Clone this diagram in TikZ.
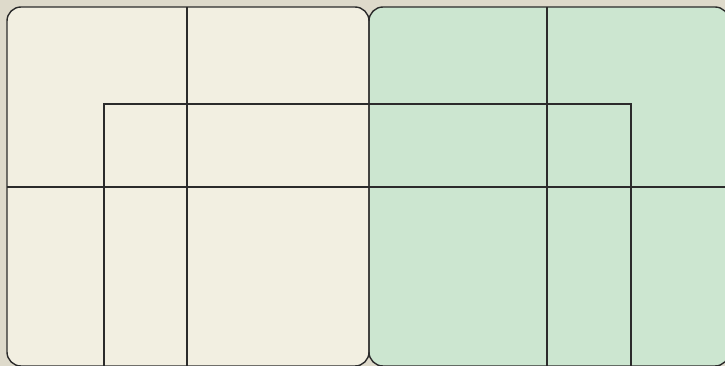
\documentclass[tikz,border=0pt]{standalone}
\definecolor{bg}{HTML}{DEDACB}
\definecolor{leftfill}{HTML}{F2EFE1}
\definecolor{rightfill}{HTML}{CCE6D0}
\definecolor{ink}{HTML}{2B2B2B}
\tikzset{
  panel/.style={draw=ink, line width=1.4pt, rounded corners=14pt},
  grid line/.style={draw=ink, line width=1.1pt}
}
\begin{document}
\begin{tikzpicture}[x=1pt,y=-1pt]
\fill[bg] (0,0) rectangle (725,366);
\useasboundingbox (0,0) rectangle (725,366);
\begin{scope}
\clip (0,0) rectangle (725,366);
\fill[leftfill, rounded corners=14pt] (7,7) rectangle (369,366);
\fill[rightfill, rounded corners=14pt] (369,7) rectangle (729,366);
% grid lines
\draw[grid line] (187,7) -- (187,366);
\draw[grid line] (547,7) -- (547,366);
\draw[grid line] (7,187) -- (728,187);
\draw[grid line] (104,366) -- (104,104) -- (631,104) -- (631,366);
\draw[panel] (7,7) rectangle (369,366);
\draw[panel] (369,7) rectangle (729,366);
\end{scope}
\end{tikzpicture}
\end{document}
